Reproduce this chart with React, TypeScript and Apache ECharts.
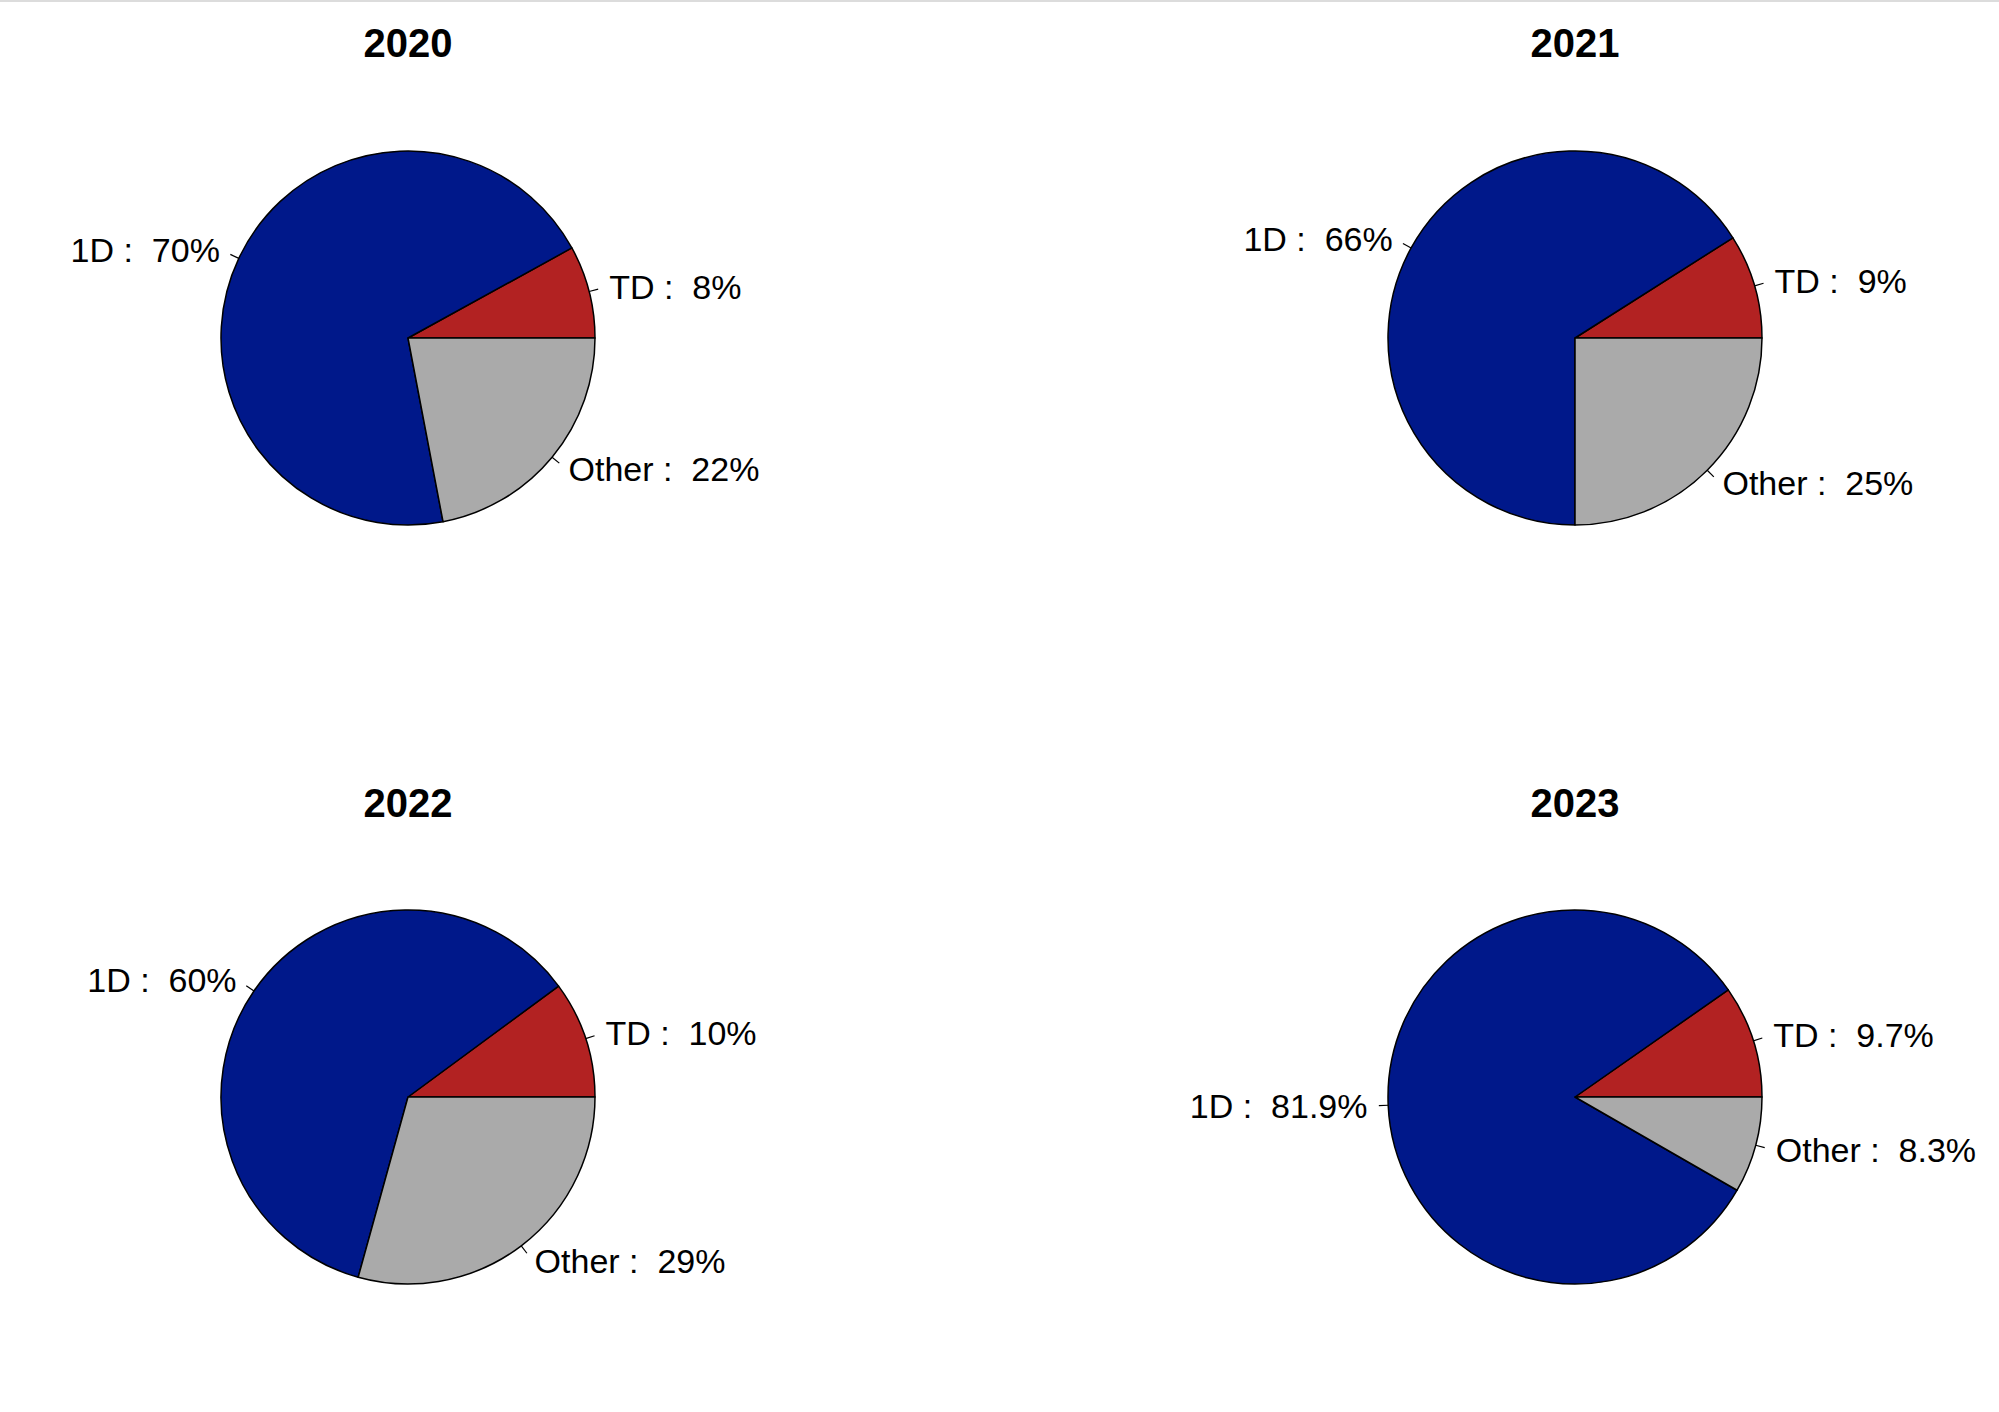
import React, { useEffect, useRef } from "react";
import * as echarts from "echarts";

const years = ["2020", "2021", "2022", "2023"];
const categories = ["TD", "1D", "Other"];
const values2020 = [8, 70, 22];
const values2021 = [9, 66, 25];
const values2022 = [10, 60, 29];
const values2023 = [9.7, 81.9, 8.3];
const allValues = [values2020, values2021, values2022, values2023];
const colors = ["#B22222", "#00188A", "#AAAAAA"];

const centers: [number, number][] = [
  [408, 338],
  [1575, 338],
  [408, 1097],
  [1575, 1097],
];
const titleTops = [23, 23, 783, 783];
const RADIUS = 187;
const TICK = RADIUS * 0.05;

export default function App() {
  const ref = useRef<HTMLDivElement>(null);
  useEffect(() => {
    if (!ref.current) return;
    const chart = echarts.init(ref.current, undefined, { renderer: "svg" });
    const font = "'Liberation Sans', Arial, Helvetica, sans-serif";
    const option: any = {
      animation: false,
      backgroundColor: "#ffffff",
      title: years.map((y, i) => ({
        text: y,
        left: centers[i][0],
        top: titleTops[i],
        textAlign: "center",
        padding: 0,
        textStyle: {
          fontFamily: font,
          fontWeight: "bold",
          fontSize: 40,
          color: "#000",
        },
      })),
      graphic: [
        {
          type: "rect",
          shape: { x: 0, y: 0, width: 1999, height: 2 },
          style: { fill: "#dcdcdc" },
        },
      ],
      series: allValues.map((vals, i) => ({
        type: "pie",
        center: centers[i],
        radius: RADIUS,
        startAngle: 0,
        clockwise: false,
        silent: true,
        avoidLabelOverlap: true,
        data: categories.map((c, j) => ({
          name: c,
          value: vals[j],
          itemStyle: { color: colors[j] },
        })),
        itemStyle: { borderColor: "#000", borderWidth: 1.5 },
        label: {
          show: true,
          position: "outside",
          formatter: (p: any) => `${p.name} :  ${p.value}%`,
          fontFamily: font,
          fontSize: 34,
          color: "#000",
          padding: 0,
        },
        labelLine: {
          show: true,
          length: TICK,
          length2: 0,
          lineStyle: { color: "#000", width: 1.2 },
        },
        labelLayout: (p: any) => {
          const pts = p.labelLinePoints;
          if (!pts || pts.length < 2) return {};
          const ddx = pts[1][0] - pts[0][0];
          const ddy = pts[1][1] - pts[0][1];
          const isLeft = p.align === "right" || ddx < 0;
          return {
            x: pts[1][0] + ddx + (isLeft ? -2 : 2),
            y: pts[1][1] + ddy,
            labelLinePoints: pts,
          };
        },
      })),
    };
    chart.setOption(option);
    return () => chart.dispose();
  }, []);
  return (
    <div
      ref={ref}
      style={{ position: "fixed", left: 0, top: 0, width: 1999, height: 1412 }}
    />
  );
}
